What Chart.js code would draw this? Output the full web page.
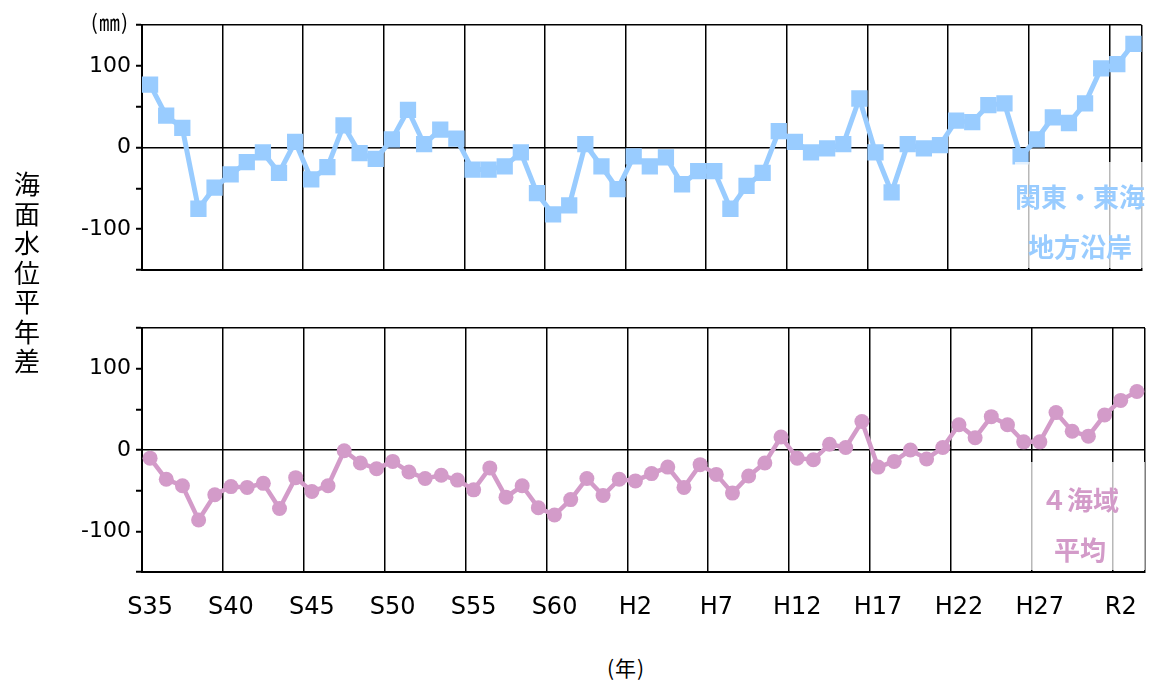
<!DOCTYPE html>
<html lang="ja">
<head>
<meta charset="utf-8">
<script src="https://cdn.jsdelivr.net/npm/chart.js@4.4.1/dist/chart.umd.min.js"></script>
<style>
  body { margin: 0; background: #fff; }
  #wrap { position: relative; width: 1153px; height: 686px; overflow: hidden; font-family: "Noto Sans CJK JP", sans-serif; }
  canvas { position: absolute; left: 0; }
  #topChart { top: 0; }
  #bottomChart { top: 300px; }
  .note { position: absolute; left: 1015px; width: 130px; background: rgba(255,255,255,0.72); font-weight: bold; font-size: 26px; line-height: 50px; text-align: center; }
  #ytitle { position: absolute; left: 13px; top: 168px; font-size: 26px; line-height: 29.5px; width: 28px; text-align: center; color: #000; }
  #unit { position: absolute; right: 1024px; top: 6px; font-size: 21px; letter-spacing: 1px; color: #000; }
  #xunit { position: absolute; left: 607px; top: 652px; font-size: 21px; letter-spacing: 1px; color: #000; }
</style>
</head>
<body>
<div id="wrap">
  <canvas id="topChart" width="1153" height="300"></canvas>
  <canvas id="bottomChart" width="1153" height="340"></canvas>
  <div class="note" style="top:162px;height:97px;padding-top:9px;color:#99ccff;">関東・東海<br>地方沿岸</div>
  <div class="note" style="top:462px;height:96px;padding-top:12px;color:#d39bc9;">４海域<br>平均</div>
  <div id="ytitle">海<br>面<br>水<br>位<br>平<br>年<br>差</div>
  <div id="unit">(㎜)</div>
  <div id="xunit">(年)</div>
</div>
<script>
// years 1960 (S35) .. 2021 (R3)
const years = [];
for (let y = 1960; y <= 2021; y++) years.push(String(y));

// tick labels every 5 years
const eraLabels = ['S35', 'S40', 'S45', 'S50', 'S55', 'S60', 'H2', 'H7', 'H12', 'H17', 'H22', 'H27', 'R2'];

// sea level anomaly (mm), Kanto-Tokai coast
const kantoTokai = [
  77, 39, 24, -75, -49, -33, -18, -6, -31, 7,
  -39, -24, 27, -7, -14, 10, 46, 4, 22, 11,
  -27, -27, -23, -6, -56, -82, -71, 4, -23, -51,
  -11, -23, -12, -45, -29, -29, -75, -47, -31, 20,
  7, -6, -1, 4, 60, -6, -55, 4, -1, 3,
  33, 31, 52, 54, -11, 10, 37, 30, 54, 97,
  102, 127
];

// sea level anomaly (mm), average of 4 sea areas
const fourSeaAvg = [
  -10, -36, -44, -86, -55, -45, -46, -41, -72, -34,
  -51, -44, -1, -16, -23, -14, -27, -35, -31, -37,
  -49, -22, -58, -44, -71, -80, -61, -35, -56, -36,
  -38, -29, -21, -46, -18, -30, -53, -32, -16, 16,
  -10, -12, 7, 3, 35, -21, -14, 0, -11, 3,
  31, 15, 41, 31, 10, 10, 46, 23, 17, 43,
  61, 72
];

function makeChart(id, data, color, opts) {
  new Chart(document.getElementById(id), {
    type: 'line',
    data: {
      labels: years,
      datasets: [{
        data: data,
        borderColor: color,
        backgroundColor: color,
        borderWidth: opts.lineWidth,
        pointStyle: opts.pointStyle,
        pointRadius: opts.pointRadius,
        pointHoverRadius: opts.pointRadius,
        pointBorderWidth: 0,
        tension: 0
      }]
    },
    options: {
      responsive: false,
      animation: false,
      events: [],
      layout: { padding: { left: 0, right: 8, top: opts.padTop, bottom: 0 } },
      plugins: { legend: { display: false }, tooltip: { enabled: false } },
      scales: {
        x: {
          type: 'category',
          offset: true,
          afterFit: scale => {
            scale.height = opts.xHeight;
            // keep the plot area fixed; labels don't need extra side room
            scale.paddingLeft = 0;
            scale.paddingRight = 0;
          },
          border: { display: true, color: '#000', width: 2 },
          grid: {
            offset: true,
            drawTicks: false,
            lineWidth: 1.5,
            // every 5 years, plus the right edge (scale context has no index)
            color: ctx => (ctx.index === undefined || ctx.index % 5 === 0) ? '#000' : 'rgba(0,0,0,0)'
          },
          ticks: {
            autoSkip: false,
            maxRotation: 0,
            padding: 21,
            color: '#000',
            font: { family: 'DejaVu Sans', size: 24 },
            callback: (v, i) => (opts.showX && i % 5 === 0) ? eraLabels[i / 5] : ''
          }
        },
        y: {
          min: -150,
          max: 150,
          afterFit: scale => { scale.width = 142; },
          border: { display: true, color: '#000', width: 2 },
          grid: {
            lineWidth: 1.5,
            tickLength: 6,
            tickColor: '#000',
            tickWidth: 2,
            color: ctx => (ctx.tick && (ctx.tick.value === 0 || Math.abs(ctx.tick.value) === 150)) ? '#000' : 'rgba(0,0,0,0)'
          },
          ticks: {
            stepSize: 50,
            padding: 5,
            color: '#000',
            font: { family: 'DejaVu Sans', size: 22 },
            callback: v => v % 100 === 0 ? String(v) : ''
          }
        }
      }
    }
  });
}

makeChart('topChart', kantoTokai, '#99ccff', {
  lineWidth: 5, pointStyle: 'rect', pointRadius: 11.5, padTop: 25, xHeight: 30, showX: false
});
makeChart('bottomChart', fourSeaAvg, '#d39bc9', {
  lineWidth: 4.5, pointStyle: 'circle', pointRadius: 7.5, padTop: 28, xHeight: 68, showX: true
});
</script>
</body>
</html>
